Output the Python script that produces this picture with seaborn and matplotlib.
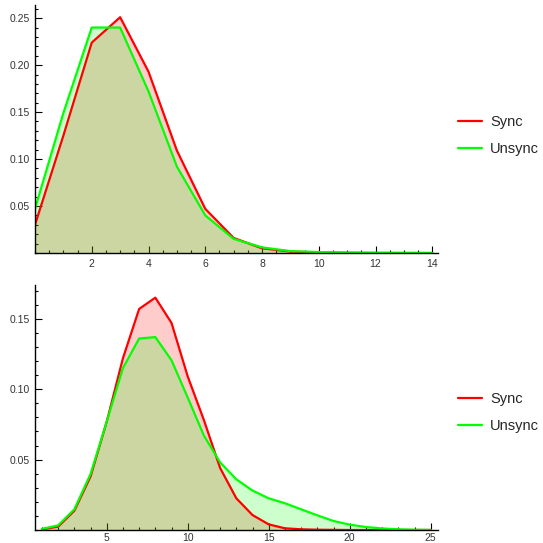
import numpy as np
import pandas as pd
import seaborn as sns
import matplotlib.pyplot as plt
from matplotlib.ticker import MultipleLocator

# top panel
x_top = list(range(0, 15))
sync_top = [0.030, 0.125, 0.224, 0.251, 0.193, 0.109, 0.047, 0.016, 0.005, 0.0015,
            0.0005, 0.0002, 0.0001, 0.0, 0.0]
unsync_top = [0.047, 0.149, 0.240, 0.240, 0.172, 0.092, 0.040, 0.015, 0.006, 0.002,
              0.001, 0.0005, 0.0002, 0.0001, 0.0]

# bottom panel
x_bot = list(range(1, 26))
sync_bot = [0.0005, 0.0024, 0.0137, 0.038, 0.077, 0.122, 0.157, 0.165, 0.147, 0.109,
            0.078, 0.044, 0.0225, 0.0106, 0.004, 0.0012, 0.0005, 0.0002, 0.0001, 0.0,
            0.0, 0.0, 0.0, 0.0, 0.0]
unsync_bot = [0.0008, 0.0033, 0.0147, 0.0397, 0.077, 0.115, 0.136, 0.137, 0.1205, 0.094,
              0.067, 0.048, 0.036, 0.028, 0.0225, 0.019, 0.0147, 0.0104, 0.0064, 0.0038,
              0.0021, 0.0011, 0.0005, 0.0002, 0.0001]

labels = ['Sync', 'Unsync']
colors = {'Sync': '#ff0000', 'Unsync': '#00ff00'}

sns.set_style('white')
plt.rcParams['font.family'] = ['Liberation Sans', 'DejaVu Sans']

W = 543
fig = plt.figure(figsize=(5.43, 5.43), dpi=100)


def px_axes(left, right, top, bottom):
    return fig.add_axes([left / W, 1 - bottom / W, (right - left) / W, (bottom - top) / W])


def panel(ax, x, sync, unsync, xlim, ylim, xmin, ymin, xticks, yticks, ytlabels, leg_y, xpad):
    df = pd.DataFrame({'x': x * 2, 'y': sync + unsync,
                       'series': [labels[0]] * len(x) + [labels[1]] * len(x)})
    for name, vals in zip(labels, [sync, unsync]):
        ax.fill_between(x, 0, vals, color=colors[name], alpha=0.2, lw=0)
    sns.lineplot(data=df, x='x', y='y', hue='series', palette=colors, lw=1.6, ax=ax)
    ax.set_xlim(*xlim)
    ax.set_ylim(*ylim)
    ax.set_xlabel('')
    ax.set_ylabel('')
    for s in ['top', 'right']:
        ax.spines[s].set_visible(False)
    for s in ['left', 'bottom']:
        ax.spines[s].set_color('black')
        ax.spines[s].set_linewidth(1.0)
    ax.set_xticks(xticks)
    ax.xaxis.set_minor_locator(MultipleLocator(xmin))
    ax.set_yticks(yticks)
    ax.set_yticklabels(ytlabels)
    ax.yaxis.set_minor_locator(MultipleLocator(ymin))
    ax.tick_params(which='both', direction='in', color='black', width=0.8,
                   labelsize=7.5, labelcolor='#333333')
    ax.tick_params(which='major', length=5, pad=4)
    ax.tick_params(which='minor', length=2.5)
    ax.tick_params(axis='x', which='major', pad=xpad)
    ax.tick_params(which='both', bottom=True, left=True)
    leg = ax.legend(loc='center left', bbox_to_anchor=(1.0496, leg_y), frameon=False,
                    borderpad=0, borderaxespad=0,
                    fontsize=10.5, handlelength=1.65, handletextpad=0.55, labelspacing=0.9)
    for h in leg.get_lines():
        h.set_linewidth(1.6)


ax1 = px_axes(35, 438, 5, 253)
panel(ax1, x_top, sync_top, unsync_top, (0, 14.2), (0, 0.264), 0.5, 0.01,
      [2, 4, 6, 8, 10, 12, 14], [0.05, 0.10, 0.15, 0.20, 0.25],
      ['0.05', '0.10', '0.15', '0.20', '0.25'], 0.474, 4)

ax2 = px_axes(35, 438, 285, 530)
panel(ax2, x_bot, sync_bot, unsync_bot, (0.57, 25.45), (0, 0.174), 1, 0.01,
      [5, 10, 15, 20, 25], [0.05, 0.10, 0.15], ['0.05', '0.10', '0.15'], 0.48, 2.5)

fig.savefig('out.png', dpi=100)
